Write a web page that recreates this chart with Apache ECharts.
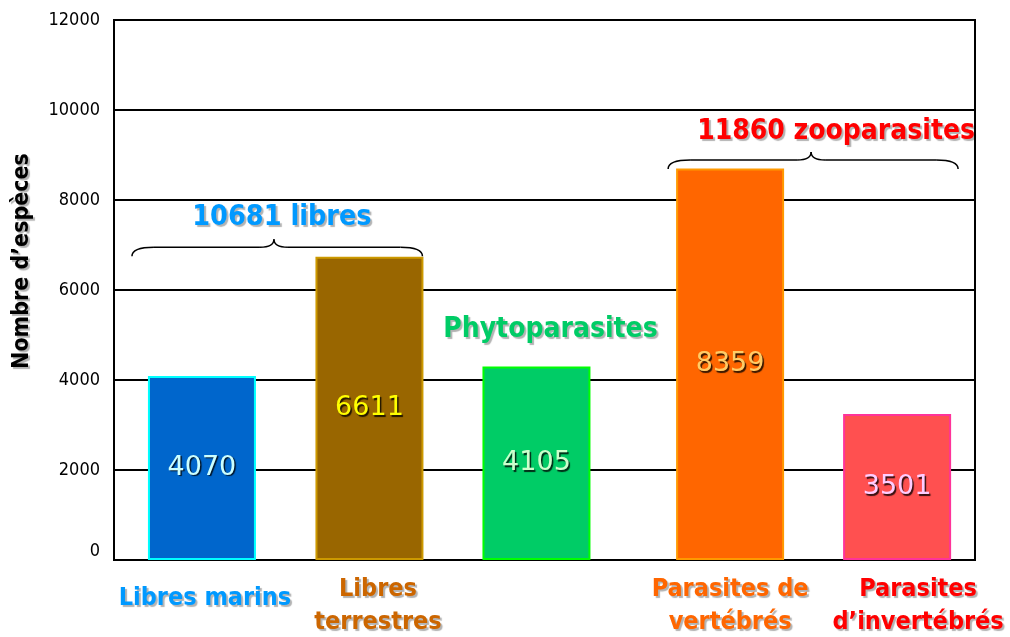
<!DOCTYPE html>
<html>
<head>
<meta charset="utf-8">
<script src="https://cdn.jsdelivr.net/npm/echarts@6/dist/echarts.min.js"></script>
<style>
html,body{margin:0;padding:0;background:#fff;}
#chart{width:1010px;height:637px;}
</style>
</head>
<body>
<div id="chart"></div>
<script>
// ---- data ----
const categories = ['Libres marins', 'Libres\nterrestres', 'Phytoparasites', 'Parasites de\nvertébrés', 'Parasites\nd\u2019invertébrés'];
const barValues = [4090, 6740, 4300, 8700, 3245];          // bar heights as drawn
const valueLabels = ['4070', '6611', '4105', '8359', '3501']; // numbers printed in bars
const barSlots = [0.525, 1.525, 2.522, 3.678, 4.675];        // group position along x
const groupTitles = ['10681 libres', '11860 zooparasites'];
const yTicks = [0, 2000, 4000, 6000, 8000, 10000, 12000];
const yTitle = 'Nombre d\u2019espèces';

// ---- styles ----
const fills = ['#0066CC', '#996600', '#00CC66', '#FF6600', '#FF5050'];
const borders = ['#00FFFF', '#CC9900', '#00FF00', '#FF9900', '#FF3399'];
const labelColors = ['#CCFFFF', '#FFFF00', '#CCFFCC', '#FFCC66', '#FFCCFF'];
const catColors = ['#0099FF', '#CC6600', '#00CC66', '#FF6600', '#FF0000'];
const FONT = "'DejaVu Sans Condensed', 'DejaVu Sans', sans-serif";

const chart = echarts.init(document.getElementById('chart'), null, {renderer: 'canvas'});

const option = {
  animation: false,
  backgroundColor: '#fff',
  grid: {left: 114, right: 35, top: 20, bottom: 77, show: true, borderColor: '#000', borderWidth: 2},
  xAxis: {type: 'value', min: 0, max: 5.14, show: false},
  yAxis: {
    type: 'value', min: yTicks[0], max: yTicks[yTicks.length - 1], interval: yTicks[1] - yTicks[0],
    axisLine: {show: true, lineStyle: {color: '#000', width: 2}},
    axisTick: {show: false},
    splitLine: {show: true, lineStyle: {color: '#000', width: 2}},
    axisLabel: {
      color: '#000', fontSize: 18, fontFamily: FONT, margin: 14,
      formatter: v => String(v),
      verticalAlignMinLabel: 'bottom',
      textShadowColor: 'rgba(0,0,0,0.3)', textShadowOffsetX: 1.5, textShadowOffsetY: 1.5
    }
  },
  series: [{
    type: 'bar',
    barWidth: 108,
    z: 3,
    data: barValues.map((v, i) => ({
      value: [barSlots[i], v],
      itemStyle: {color: fills[i], borderColor: borders[i], borderWidth: 2},
      label: {color: labelColors[i]}
    })),
    label: {
      show: true, position: 'inside',
      formatter: p => valueLabels[p.dataIndex],
      fontSize: 27, fontFamily: "'DejaVu Sans', sans-serif",
      textShadowColor: 'rgba(0,0,0,0.8)', textShadowOffsetX: 1.5, textShadowOffsetY: 1.5, textShadowBlur: 1
    }
  }]
};
chart.setOption(option);

// ---- annotations anchored to data ----
function px(slot, val) { return chart.convertToPixel({seriesIndex: 0}, [slot, val]); }
const half = 54;
const shadow = {textShadowColor: 'rgba(0,0,0,0.3)', textShadowOffsetX: 2, textShadowOffsetY: 2, textShadowBlur: 1};

function txt(x, y, text, color, size) {
  return {
    type: 'text', x: x, y: y, z: 10,
    style: Object.assign({
      text: text, fill: color, font: 'bold ' + size + 'px ' + FONT,
      align: 'center', verticalAlign: 'middle'
    }, shadow)
  };
}

const braceStyle = {fill: 'none', stroke: '#000', lineWidth: 1.5};
function qcurve(x1, y1, cx, cy, x2, y2) {
  return {type: 'bezierCurve', z: 10, shape: {x1: x1, y1: y1, cpx1: cx, cpy1: cy, x2: x2, y2: y2}, style: braceStyle};
}
function seg(x1, y1, x2, y2) {
  return {type: 'line', z: 10, shape: {x1: x1, y1: y1, x2: x2, y2: y2}, style: braceStyle};
}
function brace(x0, x1, xm, y) {
  return [
    qcurve(x0, y + 9, x0, y, x0 + 22, y),
    seg(x0 + 22, y, xm - 14, y),
    qcurve(xm - 14, y, xm, y, xm, y - 8),
    qcurve(xm, y - 8, xm, y, xm + 14, y),
    seg(xm + 14, y, x1 - 22, y),
    qcurve(x1 - 22, y, x1, y, x1, y + 9)
  ];
}

const base = barSlots.map(s => px(s, 0));
const g = [];
// category labels under the axis
const catOffsets = [3, 8.5, 0, 0, 21];
const lineH = 33;
categories.forEach((c, i) => {
  if (i === 2) return;
  const lines = c.split('\n');
  const y0 = base[i][1] + (lines.length === 1 ? 38 : 29);
  lines.forEach((ln, k) => g.push(txt(base[i][0] + catOffsets[i], y0 + k * lineH, ln, catColors[i], 25)));
});
// Phytoparasites label above its bar
const p3 = px(barSlots[2], barValues[2]);
g.push(txt(p3[0] + 14, p3[1] - 37, categories[2], catColors[2], 28));

// left group brace and title
const lb = px(barSlots[0], 6950);
const lx0 = base[0][0] - half - 16, lx1 = base[1][0] + half - 1;
const lxm = lx0 + 142;
brace(lx0, lx1, lxm, lb[1]).forEach(e => g.push(e));
g.push(txt(lxm + 8, lb[1] - 30, groupTitles[0], catColors[0], 28.5));
// right group brace and title
const rb = px(barSlots[3], 8890);
const rx0 = base[3][0] - half - 8, rx1 = base[4][0] + half + 7;
const rxm = rx0 + 143;
brace(rx0, rx1, rxm, rb[1]).forEach(e => g.push(e));
g.push(txt(rxm + 25, rb[1] - 28, groupTitles[1], catColors[4], 28));

// y axis title
g.push({
  type: 'text', x: 22, y: 261, rotation: Math.PI / 2, z: 10,
  style: Object.assign({
    text: yTitle, fill: '#000', font: 'bold 23px ' + FONT,
    align: 'center', verticalAlign: 'middle'
  }, shadow)
});

chart.setOption({graphic: {elements: g}});
</script>
</body>
</html>
